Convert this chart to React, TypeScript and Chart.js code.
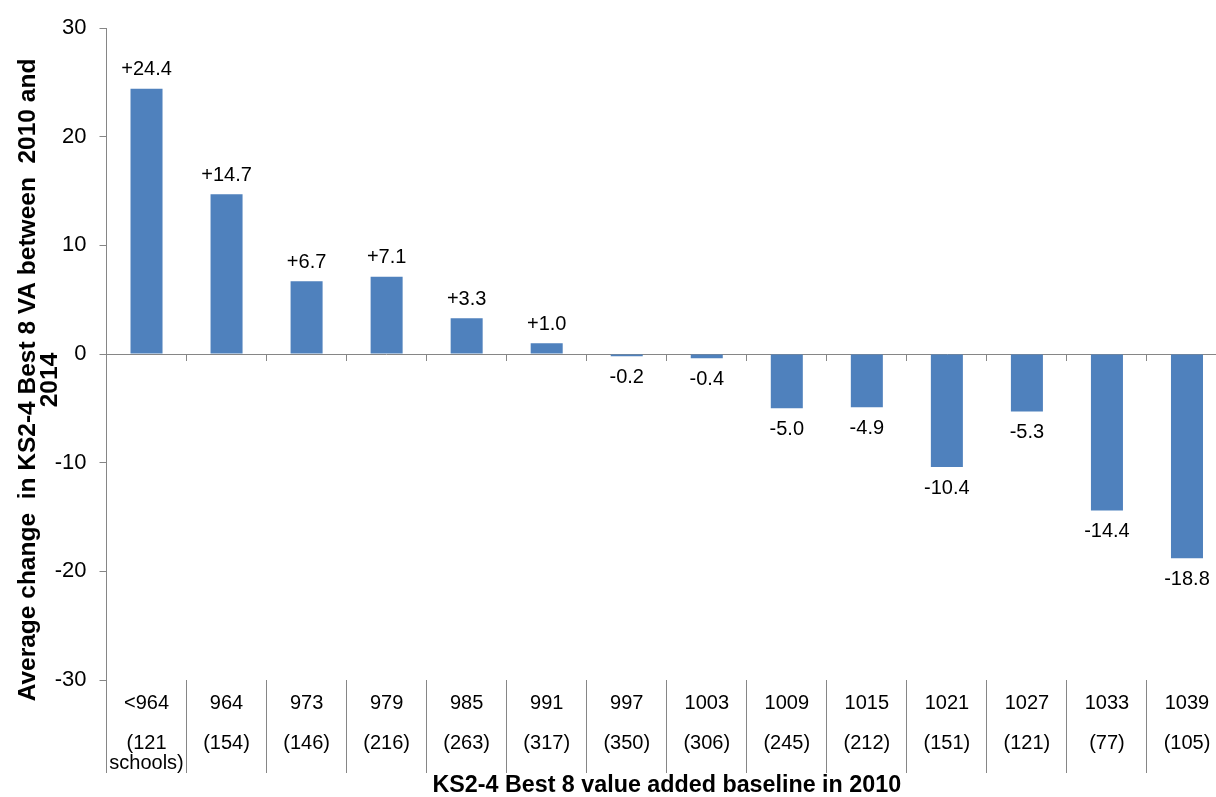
import React, { useEffect, useRef } from "react";
import { Chart, registerables } from "chart.js";

Chart.register(...registerables);

const baselineCategories = ["<964", "964", "973", "979", "985", "991", "997", "1003", "1009", "1015", "1021", "1027", "1033", "1039"];
const schoolCounts = [121, 154, 146, 216, 263, 317, 350, 306, 245, 212, 151, 121, 77, 105];
const vaChange = [24.4, 14.7, 6.7, 7.1, 3.3, 1.0, -0.2, -0.4, -5.0, -4.9, -10.4, -5.3, -14.4, -18.8];
const yTicks = [-30, -20, -10, 0, 10, 20, 30];

const yTitleLines = ["Average change  in KS2-4 Best 8 VA between  2010 and", "2014"];
const xTitle = "KS2-4 Best 8 value added baseline in 2010";

const FONT = "'Liberation Sans', Arial, sans-serif";
const GRAY = "#868686";
const BAR = "#4F81BD";

export default function App() {
  const ref = useRef<HTMLCanvasElement>(null);

  useEffect(() => {
    if (!ref.current) return;
    const labels = baselineCategories.map((c, i) =>
      i === 0 ? [c, "", "(" + schoolCounts[i], "schools)"] : [c, "", "(" + schoolCounts[i] + ")"]
    );

    const dataLabelPlugin = {
      id: "dataLabels",
      afterDatasetsDraw(chart: any) {
        const ctx = chart.ctx;
        const meta = chart.getDatasetMeta(0);
        ctx.save();
        ctx.font = "20px " + FONT;
        ctx.fillStyle = "#000";
        ctx.textAlign = "center";
        ctx.textBaseline = "middle";
        meta.data.forEach((bar: any, i: number) => {
          const v = vaChange[i];
          const txt = (v > 0 ? "+" : "") + v.toFixed(1);
          const y = v >= 0 ? bar.y - 19 : bar.y + 21;
          ctx.fillText(txt, bar.x, y);
        });
        ctx.restore();
      },
    };

    const yTitlePlugin = {
      id: "yTitle",
      afterDraw(chart: any) {
        const ctx = chart.ctx;
        ctx.save();
        ctx.font = "bold 24.5px " + FONT;
        ctx.fillStyle = "#000";
        ctx.textAlign = "center";
        ctx.textBaseline = "middle";
        const xs = [28, 50];
        yTitleLines.forEach((line, i) => {
          ctx.save();
          ctx.translate(xs[i], 380);
          ctx.rotate(-Math.PI / 2);
          ctx.fillText(line, 0, 0);
          ctx.restore();
        });
        ctx.restore();
      },
    };

    const chart = new Chart(ref.current, {
      type: "bar",
      data: {
        labels,
        datasets: [
          {
            data: vaChange,
            backgroundColor: BAR,
            borderWidth: 0,
            barPercentage: 0.4,
            categoryPercentage: 1,
          },
        ],
      },
      options: {
        animation: false,
        responsive: false,
        layout: { padding: { top: 28, left: 0, right: 0, bottom: 0 } },
        plugins: { legend: { display: false }, tooltip: { enabled: false } },
        scales: {
          x: {
            type: "category",
            position: "bottom",
            offset: true,
            grid: {
              offset: true,
              drawOnChartArea: false,
              drawTicks: true,
              tickLength: 93,
              color: GRAY,
              lineWidth: 1,
            },
            border: { display: false },
            ticks: {
              autoSkip: false,
              maxRotation: 0,
              minRotation: 0,
              padding: -79,
              color: "#000",
              font: { family: FONT, size: 20, lineHeight: 0.9875 },
            },
            title: {
              display: true,
              text: xTitle,
              color: "#000",
              font: { family: FONT, size: 23.3, weight: "bold", lineHeight: 1 },
              padding: 0,
            },
            afterFit(scale: any) {
              scale.height = 117;
            },
          },
          x2: {
            type: "category",
            position: { y: 0 } as any,
            offset: true,
            grid: {
              offset: true,
              drawOnChartArea: false,
              drawTicks: true,
              tickLength: 6,
              color: GRAY,
            },
            border: { display: true, color: GRAY, width: 1 },
            ticks: { display: false },
          },
          y: {
            min: -30,
            max: 30,
            afterBuildTicks(scale: any) {
              scale.ticks = yTicks.map((v) => ({ value: v }));
            },
            grid: {
              drawOnChartArea: false,
              drawTicks: true,
              tickLength: 7,
              color: GRAY,
            },
            border: { display: true, color: GRAY, width: 1 },
            ticks: {
              padding: 13,
              color: "#000",
              font: { family: FONT, size: 22 },
              callback: (v: any) => String(v),
            },
            afterFit(scale: any) {
              scale.width = 106.5;
            },
          },
        },
      },
      plugins: [dataLabelPlugin, yTitlePlugin],
    });
    return () => chart.destroy();
  }, []);

  return (
    <div style={{ position: "fixed", left: 0, top: 0, width: 1216, height: 797, overflow: "hidden", background: "#fff" }}>
      <canvas ref={ref} width={1227} height={797} style={{ display: "block", width: 1227, height: 797 }} />
    </div>
  );
}
